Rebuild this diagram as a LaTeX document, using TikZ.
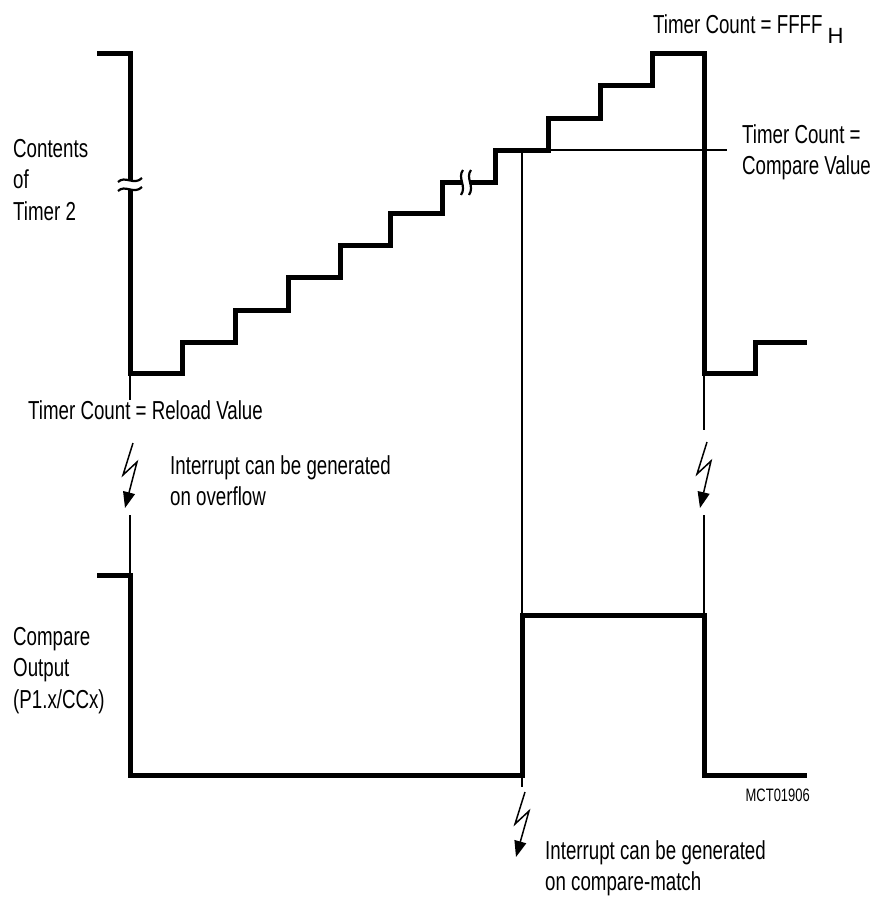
\documentclass[tikz,border=0pt]{standalone}
\usepackage{fontspec}
\setmainfont{Liberation Sans}[FakeStretch=0.72]
\newfontfamily\plainsans{Liberation Sans}
\usetikzlibrary{arrows.meta}
\begin{document}
\begin{tikzpicture}[x=1pt,y=-1pt,
  thick trace/.style={line width=5pt,line join=miter},
  thin guide/.style={line width=1.3pt},
  brkstroke/.style={line width=2.2pt},
  lightning/.style={line width=1.5pt,-{Triangle[width=12pt,length=16pt]}},
  lbl/.style={font=\fontsize{26}{31.5}\selectfont,inner sep=0pt,align=left}]
\useasboundingbox (0,0) rectangle (875,897);

% Timer 2 contents trace
\draw[thick trace] (97,53)--(130,53)--(130,373)--(182,373)--(182,342)--(235,342)--(235,310)--(288,310)--(288,277)--(340,277)--(340,245)--(390,245)--(390,213)--(442,213)--(442,182)--(495,182)--(495,150)--(548,150)--(548,118)--(600,118)--(600,85)--(652,85)--(652,53)--(704,53)--(704,373)--(755,373)--(755,342)--(807,342);

% break on the vertical line
\fill[white] (118,182) .. controls (125,175) and (134,186) .. (142,178) -- (142,187) .. controls (134,195) and (125,184) .. (118,191) -- cycle;
\draw[brkstroke] (118,182) .. controls (125,175) and (134,186) .. (142,178);
\draw[brkstroke] (118,191) .. controls (125,184) and (134,195) .. (142,187);

% break on the staircase
\fill[white] (463,170) .. controls (457,178) and (467,186) .. (461,195) -- (469,195) .. controls (475,186) and (465,178) .. (471,170) -- cycle;
\draw[brkstroke] (463,170) .. controls (457,178) and (467,186) .. (461,195);
\draw[brkstroke] (471,170) .. controls (465,178) and (475,186) .. (469,195);

% compare output trace
\draw[thick trace] (97,575)--(130,575)--(130,775)--(522,775)--(522,615)--(704,615)--(704,775)--(807,775);

% thin guide lines
\coordinate (cv) at (522,150);
\coordinate (cvend) at (727,150);
\coordinate (cvbot) at (522,787);
\draw[thin guide] (cv) -- (cvend);
\draw[thin guide] (cv) -- (cvbot);
\draw[thin guide] (130,373) -- (130,400);
\draw[thin guide] (130,515) -- (130,575);
\draw[thin guide] (704,373) -- (704,430);
\draw[thin guide] (704,515) -- (704,615);

% interrupt lightning arrows
\draw[lightning] (133,443) -- ++(-10,32) -- ++(14,-13) -- (125,508);
\draw[lightning] (707,442) -- ++(-10,32) -- ++(14,-13) -- (700,508);
\draw[lightning] (525,792) -- ++(-10,32) -- ++(14,-13) -- (516,857);

% labels
\node[lbl,anchor=north west] (contents) at (13,139) {Contents\\of\\Timer 2};
\node[lbl,anchor=base west] (reload) at (28,419) {Timer Count = Reload Value};
\node[lbl,anchor=north west] (ovf) at (170,455) {Interrupt can be generated\\on overflow};
\node[lbl,anchor=base west] (ffff) at (653,33) {Timer Count = FFFF\kern5pt\raisebox{-10pt}{\plainsans\fontsize{22}{22}\selectfont H}};
\node[lbl,anchor=north west] (cmpval) at (742,124) {Timer Count =\\Compare Value};
\node[lbl,anchor=north west] (cmpout) at (13,627) {Compare\\Output\\(P1.x/CCx)};
\node[anchor=base east,inner sep=0pt,font=\fontsize{18}{18}\selectfont] (mct) at (810,801) {MCT01906};
\node[lbl,anchor=north west] (cmpm) at (545,840) {Interrupt can be generated\\on compare-match};
\end{tikzpicture}
\end{document}
